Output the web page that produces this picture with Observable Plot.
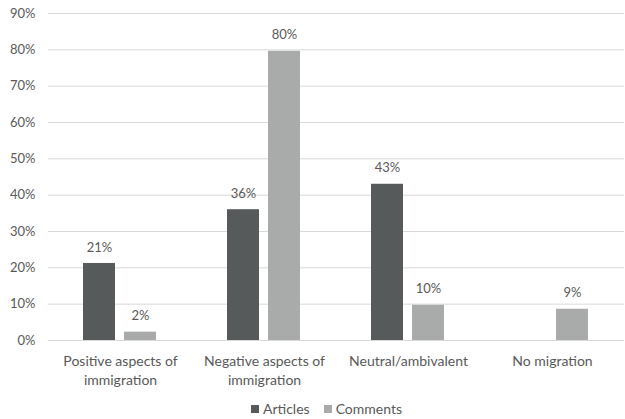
<!DOCTYPE html>
<html>
<head>
<meta charset="utf-8">
<script src="https://cdn.jsdelivr.net/npm/d3@7"></script>
<script src="https://cdn.jsdelivr.net/npm/@observablehq/plot@0.6"></script>
<style>
  html, body { margin: 0; padding: 0; background: #fff; }
  #chart { width: 625px; font-family: Lato, "Open Sans", sans-serif; color: #595959; }
  .legend { display: flex; justify-content: center; align-items: center; gap: 14px; font-size: 14px; height: 27px; padding-top: 3px; margin-left: 28px; margin-right: 0; }
  .legend span.item { display: inline-flex; align-items: center; gap: 4px; }
  .legend span.sw { display: inline-block; width: 8px; height: 8px; }
</style>
</head>
<body>
<div id="chart"></div>
<script>
const categories = ["Positive aspects of\nimmigration", "Negative aspects of\nimmigration", "Neutral/ambivalent", "No migration"];
const seriesNames = ["Articles", "Comments"];
const articles = [21.2, 36, 43, 0];
const comments = [2.3, 79.6, 9.7, 8.6];
const articleLabels = ["21%", "36%", "43%", ""];
const commentLabels = ["2%", "80%", "10%", "9%"];
const yTicks = [0, 10, 20, 30, 40, 50, 60, 70, 80, 90];
const colors = ["#565a5b", "#a9abab"];

const data = [];
categories.forEach((c, i) => {
  data.push({category: c, series: seriesNames[0], value: articles[i], label: articleLabels[i]});
  data.push({category: c, series: seriesNames[1], value: comments[i], label: commentLabels[i]});
});

const chart = Plot.plot({
  width: 625,
  height: 392,
  marginTop: 13,
  marginBottom: 52,
  marginLeft: 46,
  marginRight: 0,
  style: {fontFamily: "Lato, 'Open Sans', sans-serif", fontSize: "13px", color: "#595959", background: "#fff"},
  fx: {domain: categories, paddingInner: 0, paddingOuter: 0, label: null},
  x: {domain: seriesNames, paddingInner: 0.21, paddingOuter: 0.83, axis: null},
  y: {domain: [0, 90], axis: null},
  color: {domain: seriesNames, range: colors},
  marks: [
    Plot.ruleY(yTicks, {y: d => d, stroke: "#d9d9d9", strokeWidth: 1}),
    Plot.axisY(yTicks, {frameAnchor: "left", facetAnchor: "left", tickSize: 0, tickPadding: 13, tickFormat: d => d + "%", fill: "#595959", fontSize: 13, label: null}),
    Plot.axisFx({anchor: "bottom", tickSize: 0, tickPadding: 12, fontSize: 14, lineHeight: 1.36, fill: "#595959", label: null}),
    Plot.barY(data, {fx: "category", x: "series", y: "value", fill: "series"}),
    Plot.text(data, {fx: "category", x: "series", y: "value", text: "label", dy: -16, fontSize: 13, fill: "#595959"})
  ]
});
document.getElementById("chart").appendChild(chart);

const legend = document.createElement("div");
legend.className = "legend";
seriesNames.forEach((s, i) => {
  const item = document.createElement("span");
  item.className = "item";
  const sw = document.createElement("span");
  sw.className = "sw";
  sw.style.background = colors[i];
  item.appendChild(sw);
  item.appendChild(document.createTextNode(s));
  legend.appendChild(item);
});
document.getElementById("chart").appendChild(legend);
</script>
</body>
</html>
